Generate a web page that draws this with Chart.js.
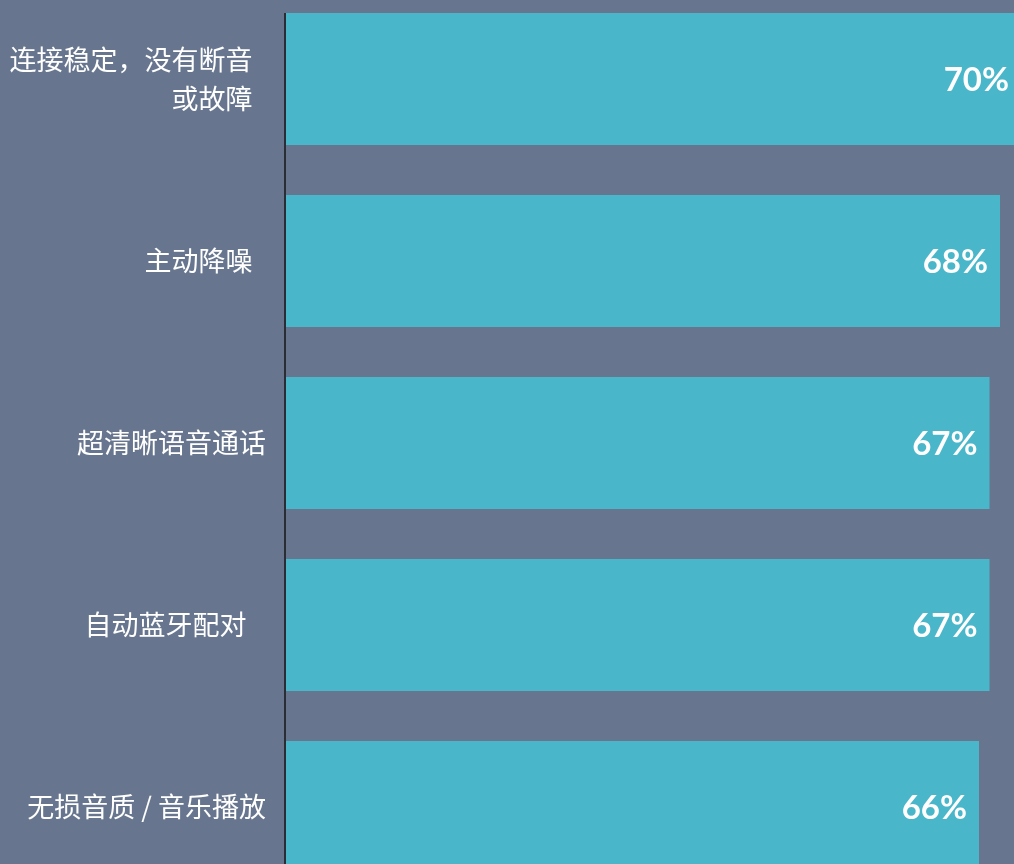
<!DOCTYPE html>
<html>
<head>
<meta charset="utf-8">
<script src="https://cdn.jsdelivr.net/npm/chart.js@4.4.1/dist/chart.umd.min.js"></script>
<style>
  html, body { margin: 0; padding: 0; background: #67768e; overflow: hidden; width: 1014px; height: 864px; }
  #wrap { position: absolute; left: 0; top: -12px; width: 1021px; height: 910px; }
</style>
</head>
<body>
<div id="wrap"><canvas id="chart" width="1021" height="910"></canvas></div>
<script>
// categories (trailing spaces keep the uneven right edges of the original)
const categories = [
  ['连接稳定，没有断音\u2002', '或故障\u2002'],
  '主动降噪\u2002',
  '超清晰语音通话',
  '自动蓝牙配对\u2002 ',
  '无损音质 / 音乐播放'
];
const shares = [70, 68, 67, 67, 66];
const shareLabels = ['70%', '68%', '67%', '67%', '66%'];

const barColor = '#49b6c9';

// value text at the inner end of each bar + the axis line
const barText = {
  id: 'barText',
  afterDatasetsDraw(chart) {
    const ctx = chart.ctx;
    const meta = chart.getDatasetMeta(0);
    ctx.save();
    ctx.fillStyle = '#ffffff';
    ctx.font = 'bold 33px Lato';
    ctx.textAlign = 'right';
    ctx.textBaseline = 'middle';
    meta.data.forEach((bar, i) => {
      ctx.fillText(shareLabels[i], bar.x - 12, bar.y + 1);
    });
    // axis line starts at the top of the first bar
    const first = meta.data[0];
    ctx.strokeStyle = '#2a2d33';
    ctx.lineWidth = 2;
    ctx.beginPath();
    ctx.moveTo(chart.chartArea.left - 1, first.y - first.height / 2);
    ctx.lineTo(chart.chartArea.left - 1, chart.chartArea.bottom);
    ctx.stroke();
    ctx.restore();
  }
};

new Chart(document.getElementById('chart').getContext('2d'), {
  type: 'bar',
  data: {
    labels: categories,
    datasets: [{
      data: shares,
      backgroundColor: barColor,
      borderWidth: 0,
      categoryPercentage: 1,
      barPercentage: 132 / 182
    }]
  },
  options: {
    indexAxis: 'y',
    responsive: false,
    animation: false,
    devicePixelRatio: 1,
    layout: { padding: 0 },
    plugins: {
      legend: { display: false },
      tooltip: { enabled: false }
    },
    scales: {
      x: {
        display: false,
        min: 0,
        max: 70
      },
      y: {
        afterFit: s => {
          s.width = 286;
          s.paddingTop = 0;
          s.paddingBottom = 0;
        },
        grid: { display: false, drawTicks: false },
        border: { display: false },
        ticks: {
          color: '#ffffff',
          padding: 20,
          font: { family: '"Noto Sans CJK SC", "Noto Sans", sans-serif', size: 27, lineHeight: 1.45 }
        }
      }
    }
  },
  plugins: [barText]
});
</script>
</body>
</html>
